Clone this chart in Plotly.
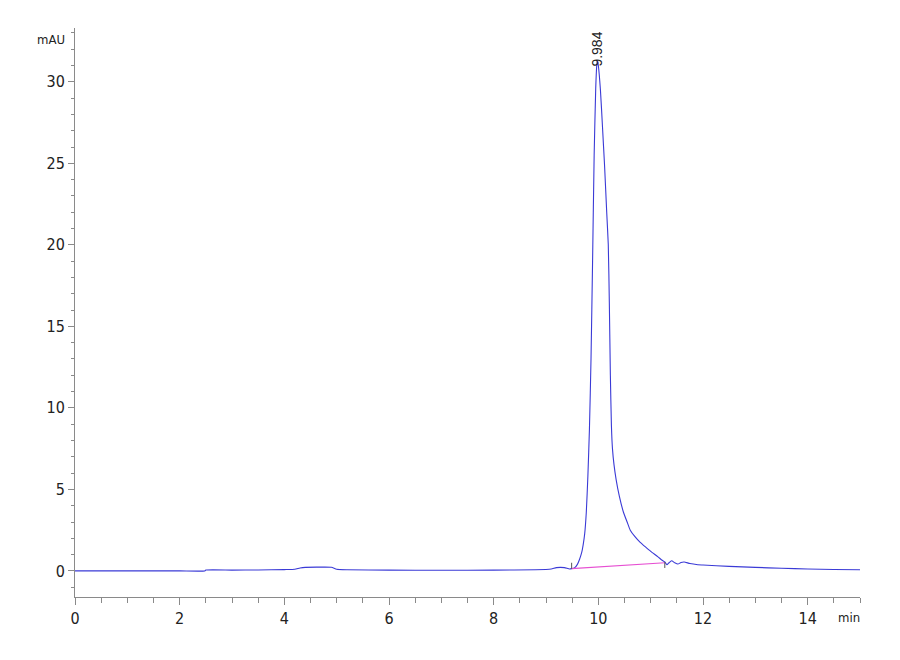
import plotly.graph_objects as go

# chromatogram trace (min, mAU)
time_min = [
    0.0, 1.0, 2.0, 2.48, 2.5, 3.0, 3.5, 4.0, 4.2, 4.3, 4.4, 4.7, 4.9, 5.0, 5.2,
    6.0, 7.0, 8.0, 8.8, 9.1, 9.2, 9.35, 9.45,
    9.49, 9.55, 9.60, 9.64, 9.68, 9.71, 9.74, 9.77, 9.80, 9.83, 9.86, 9.89,
    9.92, 9.95, 9.97, 9.984, 10.00, 10.04, 10.08, 10.12, 10.16, 10.19, 10.21,
    10.23, 10.25, 10.27, 10.30, 10.34, 10.40, 10.48, 10.55, 10.61, 10.70,
    10.80, 10.90, 11.00, 11.14, 11.22, 11.27, 11.31, 11.35, 11.40, 11.46,
    11.52, 11.58, 11.64, 11.75, 11.90, 12.0, 12.5, 13.0, 13.5, 14.0, 14.5, 15.0,
]
signal_mau = [
    0.0, 0.0, 0.0, 0.0, 0.05, 0.05, 0.06, 0.08, 0.1, 0.18, 0.22, 0.23, 0.22, 0.1, 0.07,
    0.05, 0.04, 0.05, 0.07, 0.12, 0.2, 0.2, 0.12,
    0.14, 0.2, 0.4, 0.7, 1.1, 1.6, 2.3, 3.6, 5.8, 8.7, 13.0, 19.0,
    25.5, 29.6, 31.0, 31.3, 31.0, 29.5, 27.2, 24.8, 22.0, 20.0, 16.5,
    12.0, 8.9, 7.5, 6.5, 5.6, 4.6, 3.6, 3.0, 2.5, 2.1,
    1.75, 1.47, 1.2, 0.86, 0.65, 0.55, 0.38, 0.5, 0.62, 0.5,
    0.42, 0.52, 0.55, 0.45, 0.38, 0.36, 0.28, 0.22, 0.16, 0.12, 0.09, 0.07,
]

# integration of the main peak
peak_rt = 9.984
peak_height = 31.3
baseline_t = [9.49, 11.27]
baseline_y = [0.14, 0.5]
event_t = [9.49, 11.27]
event_from = [0.14, 0.55]
event_to = [0.5, 0.18]

font_axis = "Liberation Sans Narrow, DejaVu Sans Condensed, Arial Narrow, Liberation Sans, sans-serif"
axis_grey = "#8a8a8a"

fig = go.Figure()

fig.add_trace(
    go.Scatter(
        x=time_min,
        y=signal_mau,
        mode="lines",
        line=dict(color="#3a3ad6", width=1.1, shape="spline", smoothing=0.5),
        hoverinfo="skip",
    )
)

fig.add_trace(
    go.Scatter(
        x=baseline_t,
        y=baseline_y,
        mode="lines",
        line=dict(color="#e64fd2", width=1.2),
        hoverinfo="skip",
    )
)

# little event marks at start/end of the integration
ex, ey = [], []
for t, a, b in zip(event_t, event_from, event_to):
    ex += [t, t, None]
    ey += [a, b, None]
fig.add_trace(
    go.Scatter(x=ex, y=ey, mode="lines", line=dict(color="#555555", width=1), hoverinfo="skip")
)

fig.add_annotation(
    x=peak_rt,
    y=peak_height,
    text="9.984",
    textangle=-90,
    showarrow=False,
    xanchor="center",
    yanchor="bottom",
    yshift=-8,
    font=dict(family="Liberation Sans, Arial, sans-serif", size=14, color="#222222"),
)

fig.add_annotation(
    x=0, xref="paper", xanchor="right", xshift=-8,
    y=32.6, yref="y", yanchor="middle",
    text="mAU", showarrow=False,
    font=dict(family=font_axis, size=13, color="#222222"),
)
fig.add_annotation(
    x=15, xref="x", xanchor="right", xshift=2,
    y=0, yref="paper", yanchor="top", yshift=-11,
    text="min", showarrow=False,
    font=dict(family=font_axis, size=13, color="#222222"),
)

# page body has an 8px margin, so the plot box is pulled back by that much
fig.update_layout(
    width=900,
    height=660,
    margin=dict(l=67, r=48, t=20, b=71),
    paper_bgcolor="white",
    plot_bgcolor="white",
    showlegend=False,
    font=dict(family=font_axis, size=16, color="#222222"),
)

fig.update_xaxes(
    range=[0, 15],
    tickvals=[0, 2, 4, 6, 8, 10, 12, 14],
    showgrid=False,
    zeroline=False,
    showline=True,
    linecolor=axis_grey,
    linewidth=1,
    ticks="outside",
    ticklen=7,
    tickcolor=axis_grey,
    minor=dict(dtick=0.5, ticks="outside", ticklen=5, tickcolor=axis_grey),
)
fig.update_yaxes(
    range=[-1.6, 33.3],
    tickvals=[0, 5, 10, 15, 20, 25, 30],
    showgrid=False,
    zeroline=False,
    showline=True,
    linecolor=axis_grey,
    linewidth=1,
    ticks="outside",
    ticklen=6,
    tickcolor=axis_grey,
    minor=dict(dtick=1, ticks="outside", ticklen=3, tickcolor=axis_grey),
)

fig.write_html("out.html")
